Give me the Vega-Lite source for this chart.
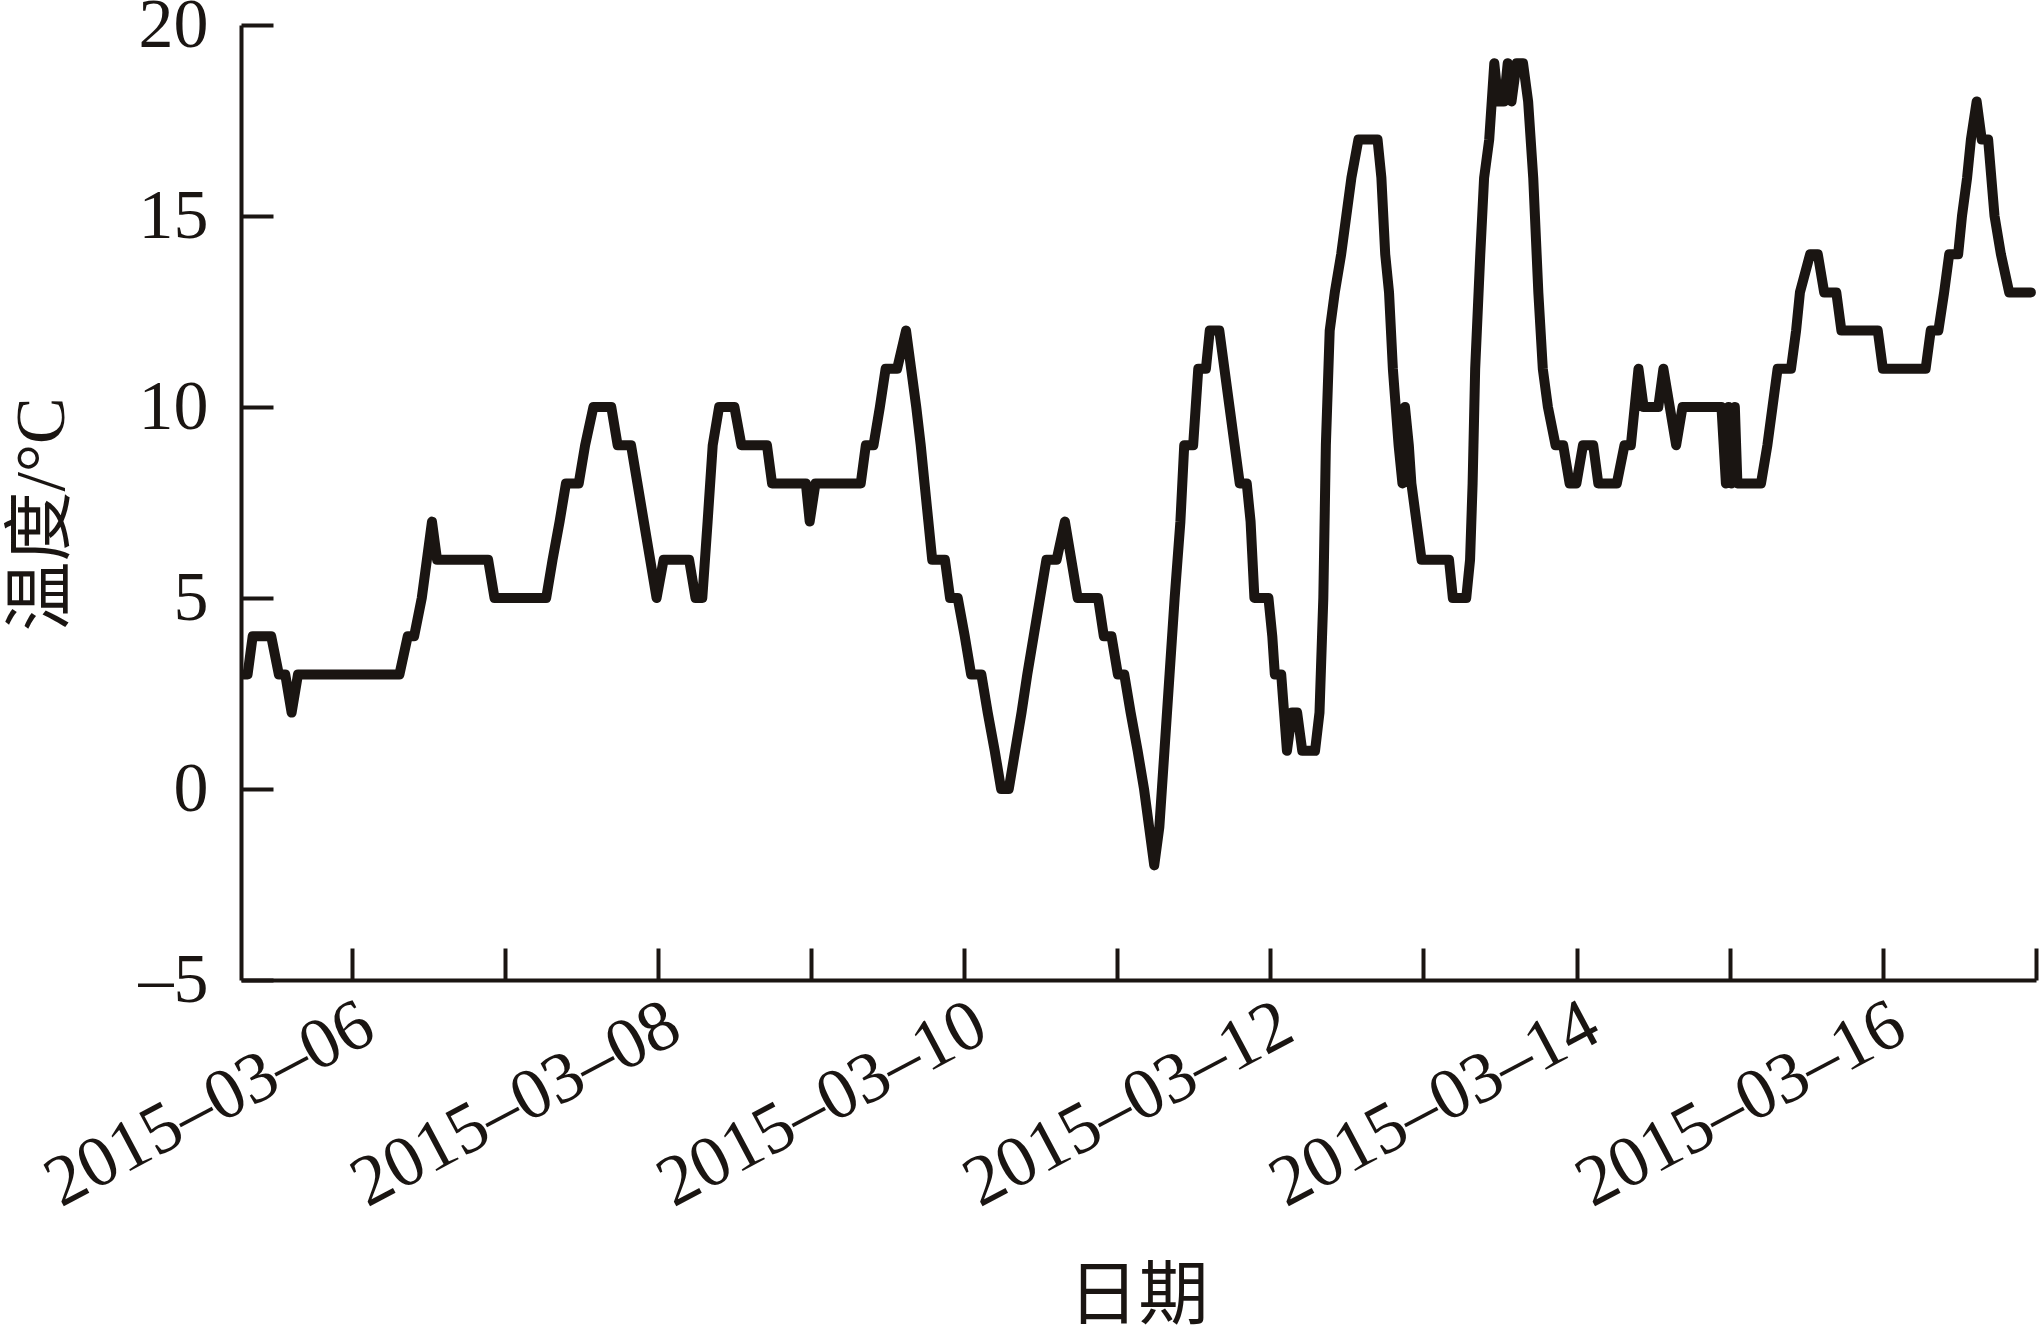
{
  "$schema": "https://vega.github.io/schema/vega-lite/v6.json",
  "width": 1795,
  "height": 955,
  "autosize": {"type": "none"},
  "padding": {"left": 241, "top": 25, "right": 4, "bottom": 357},
  "background": "white",
  "config": {
    "view": {"stroke": null},
    "axis": {
      "labelFont": "Liberation Serif",
      "titleFont": "Liberation Serif, Noto Sans CJK SC",
      "labelColor": "#1a1512",
      "titleColor": "#1a1512",
      "domainColor": "#1a1512",
      "tickColor": "#1a1512",
      "domainWidth": 4,
      "tickWidth": 4,
      "grid": false,
      "labelLimit": 0,
      "titleFontWeight": "normal"
    }
  },
  "data": {
    "values": [
      {"t": "2015-03-05T07:06", "v": 3},
      {"t": "2015-03-05T07:42", "v": 3},
      {"t": "2015-03-05T08:30", "v": 4},
      {"t": "2015-03-05T11:24", "v": 4},
      {"t": "2015-03-05T12:36", "v": 3},
      {"t": "2015-03-05T13:36", "v": 3},
      {"t": "2015-03-05T14:36", "v": 2},
      {"t": "2015-03-05T15:36", "v": 3},
      {"t": "2015-03-06T07:30", "v": 3},
      {"t": "2015-03-06T08:48", "v": 4},
      {"t": "2015-03-06T09:48", "v": 4},
      {"t": "2015-03-06T11:00", "v": 5},
      {"t": "2015-03-06T11:48", "v": 6},
      {"t": "2015-03-06T12:36", "v": 7},
      {"t": "2015-03-06T13:24", "v": 6},
      {"t": "2015-03-06T21:24", "v": 6},
      {"t": "2015-03-06T22:24", "v": 5},
      {"t": "2015-03-07T06:30", "v": 5},
      {"t": "2015-03-07T07:30", "v": 6},
      {"t": "2015-03-07T08:36", "v": 7},
      {"t": "2015-03-07T09:36", "v": 8},
      {"t": "2015-03-07T11:36", "v": 8},
      {"t": "2015-03-07T12:36", "v": 9},
      {"t": "2015-03-07T13:54", "v": 10},
      {"t": "2015-03-07T16:42", "v": 10},
      {"t": "2015-03-07T17:42", "v": 9},
      {"t": "2015-03-07T19:48", "v": 9},
      {"t": "2015-03-07T20:48", "v": 8},
      {"t": "2015-03-07T21:48", "v": 7},
      {"t": "2015-03-07T22:48", "v": 6},
      {"t": "2015-03-07T23:48", "v": 5},
      {"t": "2015-03-08T00:54", "v": 6},
      {"t": "2015-03-08T04:54", "v": 6},
      {"t": "2015-03-08T05:54", "v": 5},
      {"t": "2015-03-08T06:58", "v": 5},
      {"t": "2015-03-08T07:48", "v": 7},
      {"t": "2015-03-08T08:36", "v": 9},
      {"t": "2015-03-08T09:36", "v": 10},
      {"t": "2015-03-08T12:00", "v": 10},
      {"t": "2015-03-08T13:06", "v": 9},
      {"t": "2015-03-08T17:06", "v": 9},
      {"t": "2015-03-08T17:54", "v": 8},
      {"t": "2015-03-08T23:12", "v": 8},
      {"t": "2015-03-08T23:48", "v": 7},
      {"t": "2015-03-09T00:42", "v": 8},
      {"t": "2015-03-09T07:48", "v": 8},
      {"t": "2015-03-09T08:36", "v": 9},
      {"t": "2015-03-09T09:48", "v": 9},
      {"t": "2015-03-09T10:48", "v": 10},
      {"t": "2015-03-09T11:42", "v": 11},
      {"t": "2015-03-09T13:30", "v": 11},
      {"t": "2015-03-09T14:54", "v": 12},
      {"t": "2015-03-09T15:42", "v": 11},
      {"t": "2015-03-09T16:30", "v": 10},
      {"t": "2015-03-09T17:12", "v": 9},
      {"t": "2015-03-09T17:48", "v": 8},
      {"t": "2015-03-09T18:24", "v": 7},
      {"t": "2015-03-09T19:00", "v": 6},
      {"t": "2015-03-09T21:00", "v": 6},
      {"t": "2015-03-09T21:48", "v": 5},
      {"t": "2015-03-09T23:00", "v": 5},
      {"t": "2015-03-10T00:06", "v": 4},
      {"t": "2015-03-10T01:06", "v": 3},
      {"t": "2015-03-10T02:42", "v": 3},
      {"t": "2015-03-10T03:42", "v": 2},
      {"t": "2015-03-10T04:48", "v": 1},
      {"t": "2015-03-10T05:48", "v": 0},
      {"t": "2015-03-10T07:00", "v": 0},
      {"t": "2015-03-10T08:00", "v": 1},
      {"t": "2015-03-10T09:00", "v": 2},
      {"t": "2015-03-10T09:54", "v": 3},
      {"t": "2015-03-10T10:54", "v": 4},
      {"t": "2015-03-10T11:54", "v": 5},
      {"t": "2015-03-10T12:54", "v": 6},
      {"t": "2015-03-10T14:30", "v": 6},
      {"t": "2015-03-10T15:48", "v": 7},
      {"t": "2015-03-10T16:48", "v": 6},
      {"t": "2015-03-10T17:48", "v": 5},
      {"t": "2015-03-10T21:00", "v": 5},
      {"t": "2015-03-10T21:54", "v": 4},
      {"t": "2015-03-10T23:06", "v": 4},
      {"t": "2015-03-11T00:06", "v": 3},
      {"t": "2015-03-11T01:06", "v": 3},
      {"t": "2015-03-11T02:06", "v": 2},
      {"t": "2015-03-11T03:12", "v": 1},
      {"t": "2015-03-11T04:12", "v": 0},
      {"t": "2015-03-11T05:00", "v": -1},
      {"t": "2015-03-11T05:48", "v": -2},
      {"t": "2015-03-11T06:36", "v": -1},
      {"t": "2015-03-11T07:24", "v": 1},
      {"t": "2015-03-11T08:12", "v": 3},
      {"t": "2015-03-11T09:00", "v": 5},
      {"t": "2015-03-11T09:54", "v": 7},
      {"t": "2015-03-11T10:30", "v": 9},
      {"t": "2015-03-11T11:54", "v": 9},
      {"t": "2015-03-11T12:42", "v": 11},
      {"t": "2015-03-11T13:54", "v": 11},
      {"t": "2015-03-11T14:30", "v": 12},
      {"t": "2015-03-11T16:00", "v": 12},
      {"t": "2015-03-11T16:48", "v": 11},
      {"t": "2015-03-11T17:36", "v": 10},
      {"t": "2015-03-11T18:24", "v": 9},
      {"t": "2015-03-11T19:12", "v": 8},
      {"t": "2015-03-11T20:18", "v": 8},
      {"t": "2015-03-11T20:54", "v": 7},
      {"t": "2015-03-11T21:30", "v": 5},
      {"t": "2015-03-11T23:42", "v": 5},
      {"t": "2015-03-12T00:18", "v": 4},
      {"t": "2015-03-12T00:42", "v": 3},
      {"t": "2015-03-12T01:42", "v": 3},
      {"t": "2015-03-12T02:36", "v": 1},
      {"t": "2015-03-12T03:24", "v": 2},
      {"t": "2015-03-12T04:12", "v": 2},
      {"t": "2015-03-12T05:00", "v": 1},
      {"t": "2015-03-12T07:00", "v": 1},
      {"t": "2015-03-12T07:42", "v": 2},
      {"t": "2015-03-12T08:18", "v": 5},
      {"t": "2015-03-12T08:42", "v": 9},
      {"t": "2015-03-12T09:18", "v": 12},
      {"t": "2015-03-12T10:06", "v": 13},
      {"t": "2015-03-12T11:06", "v": 14},
      {"t": "2015-03-12T11:54", "v": 15},
      {"t": "2015-03-12T12:42", "v": 16},
      {"t": "2015-03-12T13:48", "v": 17},
      {"t": "2015-03-12T16:48", "v": 17},
      {"t": "2015-03-12T17:24", "v": 16},
      {"t": "2015-03-12T18:00", "v": 14},
      {"t": "2015-03-12T18:36", "v": 13},
      {"t": "2015-03-12T19:12", "v": 11},
      {"t": "2015-03-12T20:06", "v": 9},
      {"t": "2015-03-12T20:42", "v": 8},
      {"t": "2015-03-12T21:06", "v": 10},
      {"t": "2015-03-12T21:42", "v": 9},
      {"t": "2015-03-12T22:06", "v": 8},
      {"t": "2015-03-12T22:54", "v": 7},
      {"t": "2015-03-12T23:42", "v": 6},
      {"t": "2015-03-13T04:00", "v": 6},
      {"t": "2015-03-13T04:36", "v": 5},
      {"t": "2015-03-13T06:42", "v": 5},
      {"t": "2015-03-13T07:18", "v": 6},
      {"t": "2015-03-13T07:42", "v": 8},
      {"t": "2015-03-13T08:06", "v": 11},
      {"t": "2015-03-13T08:54", "v": 14},
      {"t": "2015-03-13T09:30", "v": 16},
      {"t": "2015-03-13T10:18", "v": 17},
      {"t": "2015-03-13T11:06", "v": 19},
      {"t": "2015-03-13T11:42", "v": 18},
      {"t": "2015-03-13T12:36", "v": 18},
      {"t": "2015-03-13T13:12", "v": 19},
      {"t": "2015-03-13T13:48", "v": 18},
      {"t": "2015-03-13T14:36", "v": 19},
      {"t": "2015-03-13T15:36", "v": 19},
      {"t": "2015-03-13T16:24", "v": 18},
      {"t": "2015-03-13T17:12", "v": 16},
      {"t": "2015-03-13T18:00", "v": 13},
      {"t": "2015-03-13T18:42", "v": 11},
      {"t": "2015-03-13T19:30", "v": 10},
      {"t": "2015-03-13T20:42", "v": 9},
      {"t": "2015-03-13T21:54", "v": 9},
      {"t": "2015-03-13T22:54", "v": 8},
      {"t": "2015-03-13T23:58", "v": 8},
      {"t": "2015-03-14T01:00", "v": 9},
      {"t": "2015-03-14T02:36", "v": 9},
      {"t": "2015-03-14T03:24", "v": 8},
      {"t": "2015-03-14T06:18", "v": 8},
      {"t": "2015-03-14T07:30", "v": 9},
      {"t": "2015-03-14T08:30", "v": 9},
      {"t": "2015-03-14T09:06", "v": 10},
      {"t": "2015-03-14T09:42", "v": 11},
      {"t": "2015-03-14T10:30", "v": 10},
      {"t": "2015-03-14T12:48", "v": 10},
      {"t": "2015-03-14T13:36", "v": 11},
      {"t": "2015-03-14T14:36", "v": 10},
      {"t": "2015-03-14T15:36", "v": 9},
      {"t": "2015-03-14T16:36", "v": 10},
      {"t": "2015-03-14T22:42", "v": 10},
      {"t": "2015-03-14T23:24", "v": 8},
      {"t": "2015-03-14T23:48", "v": 10},
      {"t": "2015-03-15T00:12", "v": 8},
      {"t": "2015-03-15T00:48", "v": 10},
      {"t": "2015-03-15T01:12", "v": 8},
      {"t": "2015-03-15T04:54", "v": 8},
      {"t": "2015-03-15T05:54", "v": 9},
      {"t": "2015-03-15T06:42", "v": 10},
      {"t": "2015-03-15T07:30", "v": 11},
      {"t": "2015-03-15T09:36", "v": 11},
      {"t": "2015-03-15T10:24", "v": 12},
      {"t": "2015-03-15T11:00", "v": 13},
      {"t": "2015-03-15T12:36", "v": 14},
      {"t": "2015-03-15T13:48", "v": 14},
      {"t": "2015-03-15T14:48", "v": 13},
      {"t": "2015-03-15T16:42", "v": 13},
      {"t": "2015-03-15T17:30", "v": 12},
      {"t": "2015-03-15T23:12", "v": 12},
      {"t": "2015-03-16T00:00", "v": 11},
      {"t": "2015-03-16T06:42", "v": 11},
      {"t": "2015-03-16T07:30", "v": 12},
      {"t": "2015-03-16T08:42", "v": 12},
      {"t": "2015-03-16T09:36", "v": 13},
      {"t": "2015-03-16T10:24", "v": 14},
      {"t": "2015-03-16T11:48", "v": 14},
      {"t": "2015-03-16T12:24", "v": 15},
      {"t": "2015-03-16T13:12", "v": 16},
      {"t": "2015-03-16T13:48", "v": 17},
      {"t": "2015-03-16T14:42", "v": 18},
      {"t": "2015-03-16T15:30", "v": 17},
      {"t": "2015-03-16T16:30", "v": 17},
      {"t": "2015-03-16T17:30", "v": 15},
      {"t": "2015-03-16T18:30", "v": 14},
      {"t": "2015-03-16T19:48", "v": 13},
      {"t": "2015-03-16T23:12", "v": 13}
    ]
  },
  "mark": {"type": "line", "color": "#1a1512", "strokeWidth": 10, "strokeJoin": "round", "strokeCap": "round", "clip": true},
  "encoding": {
    "x": {
      "field": "t",
      "type": "temporal",
      "scale": {"domain": ["2015-03-05T06:40", "2015-03-17T00:00"]},
      "axis": {
        "title": "日期",
        "titleFontSize": 70,
        "titleX": 897,
        "titleY": 338,
        "titleBaseline": "alphabetic",
        "tickCount": {"interval": "day", "step": 1},
        "tickSize": -32,
        "labelFontSize": 72,
        "labelAngle": -28,
        "labelAlign": "right",
        "labelBaseline": "top",
        "labelPadding": 40,
        "labelOverlap": false,
        "labelFlush": false,
        "labelExpr": "date(datum.value) % 2 == 0 ? timeFormat(datum.value, '%Y–%m–%d') : ''"
      }
    },
    "y": {
      "field": "v",
      "type": "quantitative",
      "scale": {"domain": [-5, 20], "nice": false, "zero": false},
      "axis": {
        "title": "温度/°C",
        "titleFontSize": 70,
        "titleX": -199,
        "titleY": 489,
        "titleBaseline": "middle",
        "titleAngle": -90,
        "values": [-5, 0, 5, 10, 15, 20],
        "tickSize": -32,
        "labelFontSize": 70,
        "labelPadding": 65,
        "labelExpr": "datum.value < 0 ? '–' + abs(datum.value) : datum.label"
      }
    }
  }
}
